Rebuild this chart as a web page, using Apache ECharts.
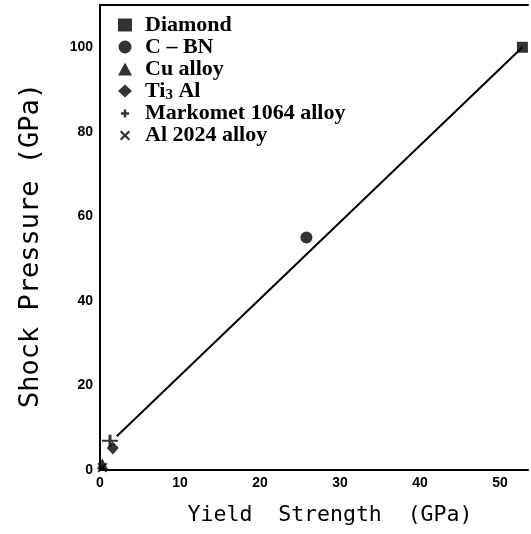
<!DOCTYPE html>
<html>
<head>
<meta charset="utf-8">
<script src="https://cdn.jsdelivr.net/npm/echarts@6/dist/echarts.min.js"></script>
<style>html,body{margin:0;padding:0;background:#fff;}#c{width:531px;height:534px;}</style>
</head>
<body>
<div id="c"></div>
<script>
const seriesNames = ['Diamond', 'C – BN', 'Cu alloy', 'Ti3 Al', 'Markomet 1064 alloy', 'Al 2024 alloy'];
const diamondData = [[52.8, 100]];
const cbnData = [[25.8, 55]];
const cuData = [[0.3, 1.5]];
const tiAlData = [[1.6, 5.2]];
const markometData = [[1.25, 6.9]];
const al2024Data = [[0.3, 0.6]];
const fitLine = [[2.1, 8], [52.8, 100]];
const xTicks = [0, 10, 20, 30, 40, 50];
const yTicks = [0, 20, 40, 60, 80, 100];

const plusPath = 'path://M6.5,0H9.5V5H16V7H9.5V12H6.5V7H0V5H6.5Z';
const plusIcon = 'path://M0,0L0.01,0M16,16L16.01,16M6.5,3H9.5V6.5H13V9.5H9.5V13H6.5V9.5H3V6.5H6.5Z';
const xPath = 'path://M0,1.5L1.5,0L5,3.5L8.5,0L10,1.5L6.5,5L10,8.5L8.5,10L5,6.5L1.5,10L0,8.5L3.5,5Z';
const xIcon = 'path://M0,0L0.01,0M14,14L14.01,14M1.5,3.2L3.2,1.5L7,5.3L10.8,1.5L12.5,3.2L8.7,7L12.5,10.8L10.8,12.5L7,8.7L3.2,12.5L1.5,10.8L5.3,7Z';

const chart = echarts.init(document.getElementById('c'));
const axisLineStyle = {color: '#000', width: 2};
const tickFont = {fontFamily: 'Liberation Sans', fontWeight: 'bold', fontSize: 14, color: '#000'};

chart.setOption({
  animation: false,
  backgroundColor: '#fff',
  grid: {left: 100, right: 0, top: 5, bottom: 64},
  legend: {
    orient: 'vertical', left: 113, top: 9,
    itemWidth: 14, itemHeight: 13, itemGap: 0,
    data: [
      {name: seriesNames[0], icon: 'rect'},
      {name: seriesNames[1], icon: 'circle'},
      {name: seriesNames[2], icon: 'triangle'},
      {name: seriesNames[3], icon: 'diamond'},
      {name: seriesNames[4], icon: plusIcon},
      {name: seriesNames[5], icon: xIcon}
    ],
    formatter: function (n) { return n === 'Ti3 Al' ? 'Ti{sub|3} Al' : n; },
    textStyle: {
      fontFamily: 'Liberation Serif', fontWeight: 'bold', fontSize: 22, color: '#000', lineHeight: 22,
      padding: [0, 0, 0, 8],
      rich: {sub: {fontFamily: 'Liberation Serif', fontWeight: 'bold', fontSize: 15, color: '#000', padding: [8, 0, 0, 0]}}
    }
  },
  xAxis: [{
    type: 'value', min: 0, max: 53.5, interval: 10, position: 'bottom',
    name: 'Yield  Strength  (GPa)', nameLocation: 'middle', nameGap: 34,
    nameTextStyle: {fontFamily: 'DejaVu Sans Mono', fontSize: 21.5, color: '#000', padding: [0, 0, 0, 32]},
    axisLine: {show: true, onZero: false, lineStyle: axisLineStyle},
    axisTick: {show: false}, splitLine: {show: false},
    axisLabel: Object.assign({margin: 6, formatter: function (v) { return xTicks.indexOf(v) >= 0 ? String(v) : ''; }}, tickFont)
  }, {
    type: 'value', min: 0, max: 53.5, position: 'top',
    axisLine: {show: true, onZero: false, lineStyle: axisLineStyle},
    axisTick: {show: false}, splitLine: {show: false}, axisLabel: {show: false}
  }],
  yAxis: {
    type: 'value', min: 0, max: 110, interval: 20,
    name: 'Shock Pressure (GPa)', nameLocation: 'middle', nameGap: 56,
    nameTextStyle: {fontFamily: 'DejaVu Sans Mono', fontSize: 27, color: '#000', padding: [0, 16, 0, 0]},
    axisLine: {show: true, onZero: false, lineStyle: axisLineStyle},
    axisTick: {show: false}, splitLine: {show: false},
    axisLabel: Object.assign({margin: 7, formatter: function (v) { return yTicks.indexOf(v) >= 0 ? String(v) : ''; }}, tickFont)
  },
  series: [
    {name: 'fit', type: 'line', data: fitLine, symbol: 'none', lineStyle: {color: '#000', width: 2}, z: 1},
    {name: seriesNames[0], type: 'scatter', data: diamondData, symbol: 'rect', symbolSize: 11, itemStyle: {color: '#000'}},
    {name: seriesNames[1], type: 'scatter', data: cbnData, symbol: 'circle', symbolSize: 12, itemStyle: {color: '#000'}},
    {name: seriesNames[2], type: 'scatter', data: cuData, symbol: 'triangle', symbolSize: 11, itemStyle: {color: '#000'}},
    {name: seriesNames[3], type: 'scatter', data: tiAlData, symbol: 'diamond', symbolSize: [12, 13], itemStyle: {color: '#000'}},
    {name: seriesNames[4], type: 'scatter', data: markometData, symbol: plusPath, symbolSize: [16, 12], itemStyle: {color: '#000'}},
    {name: seriesNames[5], type: 'scatter', data: al2024Data, symbol: xPath, symbolSize: 10, itemStyle: {color: '#000'}}
  ]
});
</script>
</body>
</html>
